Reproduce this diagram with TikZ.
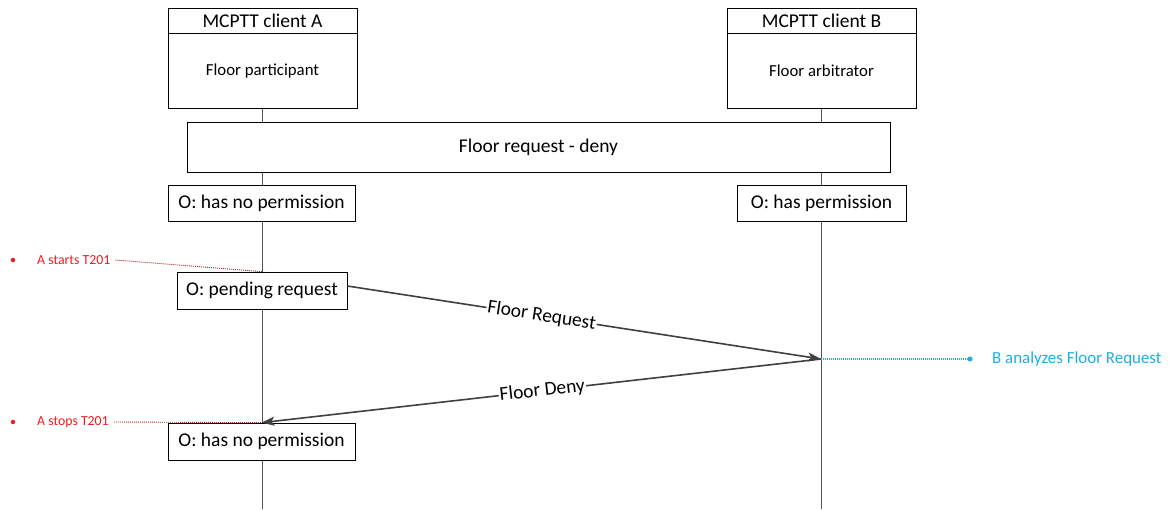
\documentclass[tikz,border=0pt]{standalone}
\usepackage{fontspec}
\setmainfont{Carlito}
\usetikzlibrary{arrows.meta,calc}
\definecolor{lifegray}{HTML}{555555}
\definecolor{msggray}{HTML}{404040}
\definecolor{annred}{HTML}{EE1C1C}
\definecolor{annline}{HTML}{A02828}
\definecolor{annblue}{HTML}{1AAFE6}
\tikzset{
  box/.style={draw=black, fill=white, line width=0.7pt, inner sep=0pt, rectangle},
  bigtxt/.style={font=\fontsize{19.5}{23}\selectfont},
  smalltxt/.style={font=\fontsize{16.8}{20}\selectfont},
  lifeline/.style={draw=lifegray, line width=0.8pt},
  msg/.style={draw=msggray, line width=1.6pt, -{Stealth[length=13pt,width=9pt,inset=3pt]}},
  msglabel/.style={fill=white, inner sep=1pt, sloped, font=\fontsize{19.5}{23}\selectfont},
  rednote/.style={text=annred, font=\fontsize{13.8}{16}\selectfont, inner sep=0pt, anchor=west},
  bluenote/.style={text=annblue, font=\fontsize{16.9}{20}\selectfont, inner sep=0pt, anchor=west},
  reddots/.style={draw=annline, line width=0.9pt, dash pattern=on 1pt off 1pt},
  bluedots/.style={draw=annblue, line width=1.1pt, dash pattern=on 1pt off 1pt},
}
\begin{document}
\begin{tikzpicture}[x=1pt, y=-1pt]
\useasboundingbox (0,0) rectangle (1169,509);

% lifeline end points
\coordinate (lA top) at (262,108);
\coordinate (lA bot) at (262,509);
\coordinate (lB top) at (821,108);
\coordinate (lB bot) at (821,509);
\draw[lifeline] (lA top) -- (lA bot);
\draw[lifeline] (lB top) -- (lB bot);

% participants
\node[box, bigtxt, minimum width=189pt, minimum height=25pt] (headA) at (262.5,20.5) {MCPTT client A};
\node[box, smalltxt, minimum width=189pt, minimum height=75pt, anchor=north] (bodyA) at (headA.south) {Floor participant};
\node[box, bigtxt, minimum width=189pt, minimum height=25pt] (headB) at (821.5,20.5) {MCPTT client B};
\node[box, smalltxt, minimum width=189pt, minimum height=75pt, anchor=north] (bodyB) at (headB.south) {Floor arbitrator};

% procedure frame
\node[box, bigtxt, minimum width=703pt, minimum height=50pt] (proc) at (538.5,147) {Floor request - deny};

% states
\node[box, bigtxt, minimum width=187pt, minimum height=36pt] (stA1) at (261.5,203) {O: has no permission};
\node[box, bigtxt, minimum width=169pt, minimum height=36pt] (stB1) at (821.5,203) {O: has permission};
\node[box, bigtxt, minimum width=170pt, minimum height=37pt] (stA2) at (262,290.5) {O: pending request};
\node[box, bigtxt, minimum width=187pt, minimum height=37pt] (stA3) at (261.5,441.5) {O: has no permission};

% messages
\coordinate (reqStart) at ($(stA2.east)+(0,-4.5)$);
\coordinate (atB) at (821,359);
\draw[msg] (reqStart) -- node[msglabel, pos=0.41] (lblReq) {Floor Request} (atB);
\draw[msg] (atB) -- node[msglabel, pos=0.498] (lblDeny) {Floor Deny} (stA3.north);

% timer annotations
\node[circle, fill=annred, inner sep=0pt, minimum size=4.5pt] (dotStart) at (13,260) {};
\node[rednote] (txtStart) at (37,260) {A starts T201};
\draw[reddots] (txtStart.east) ++(5,0) coordinate (rs) (rs) -- (stA2.north);

\node[circle, fill=annred, inner sep=0pt, minimum size=4.5pt] (dotStop) at (13,422) {};
\node[rednote] (txtStop) at (37,422) {A stops T201};
\draw[reddots] (txtStop.east) ++(5,0) coordinate (re) (re) -- (stA3.north);

% arbitrator annotation
\node[circle, fill=annblue, inner sep=0pt, minimum size=5pt] (dotB) at (970,359) {};
\node[bluenote] (txtB) at (992,359) {B analyzes Floor Request};
\draw[bluedots] (atB) -- (dotB);
\end{tikzpicture}
\end{document}
